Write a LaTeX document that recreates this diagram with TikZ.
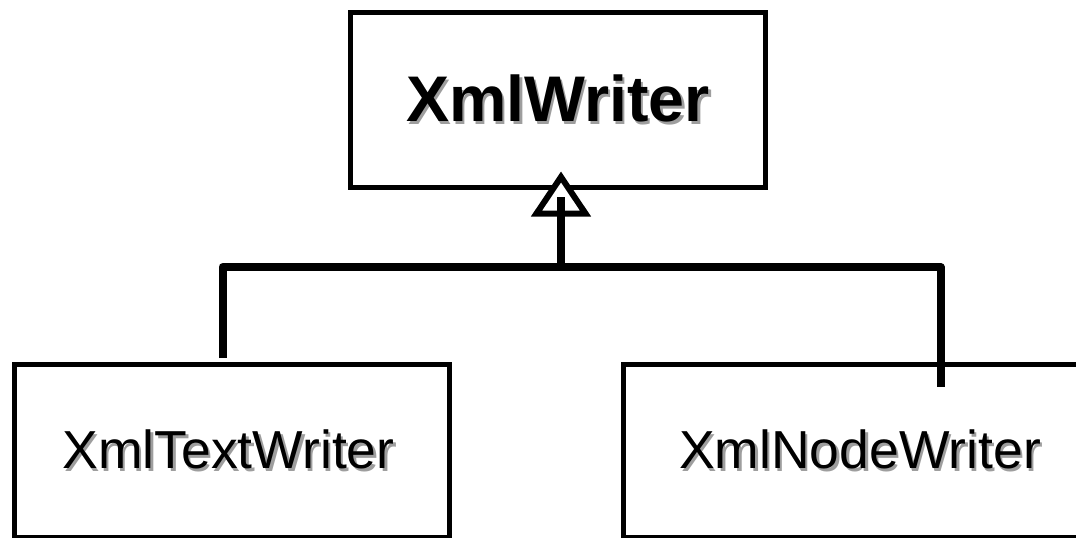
\documentclass[tikz,border=0pt]{standalone}
\usepackage{fontspec}
\setmainfont{Liberation Sans}
\usetikzlibrary{calc}

% text with a soft grey drop shadow behind it
\newcommand\shadowed[1]{%
  \makebox[0pt][l]{\kern2.4pt\raisebox{-2.4pt}{\textcolor{black!38}{#1}}}#1}

\tikzset{
  classbox/.style={draw=black, line width=5pt, fill=white, inner sep=0pt,
    rectangle},
  conn/.style={line width=8pt, line join=round},
  inherit/.style={line width=6pt, fill=white, line join=miter},
  boldlabel/.style={font=\fontsize{64.5}{72}\bfseries\selectfont},
  plainlabel/.style={font=\fontsize{53.5}{62}\selectfont},
}

\begin{document}
\begin{tikzpicture}[x=1pt, y=-1pt]
  \useasboundingbox (0,0) rectangle (1076,538);
  \clip (0,0) rectangle (1076,538);

  % base class
  \node[classbox, minimum width=415pt, minimum height=175pt]
    (base) at (558,99.5) {};
  \node[boldlabel] (basetext) at (558,100) {\shadowed{XmlWriter}};

  % derived classes
  \node[classbox, minimum width=435.5pt, minimum height=172.5pt]
    (textw) at (231.75,450.75) {};
  \node[plainlabel] (textwlabel) at (228.5,451) {\shadowed{XmlTextWriter}};

  \node[classbox, minimum width=480pt, minimum height=172.5pt]
    (nodew) at (863.5,450.75) {};
  \node[plainlabel] (nodewlabel) at (860,451) {\shadowed{XmlNodeWriter}};

  % generalisation connector
  \coordinate (tip)  at (561,177);
  \coordinate (stemtop) at (561,197);
  \coordinate (j)    at (561,267);
  \coordinate (lt)   at (222.5,358);
  \coordinate (rt)   at (940.5,387);

  \draw[inherit] (tip) -- ($(tip)+(-24.5,36.5)$) -- ($(tip)+(24.5,36.5)$) -- cycle;
  \draw[conn] (j) -- (stemtop);
  \draw[conn] (lt) |- (j) -| (rt);
\end{tikzpicture}
\end{document}
